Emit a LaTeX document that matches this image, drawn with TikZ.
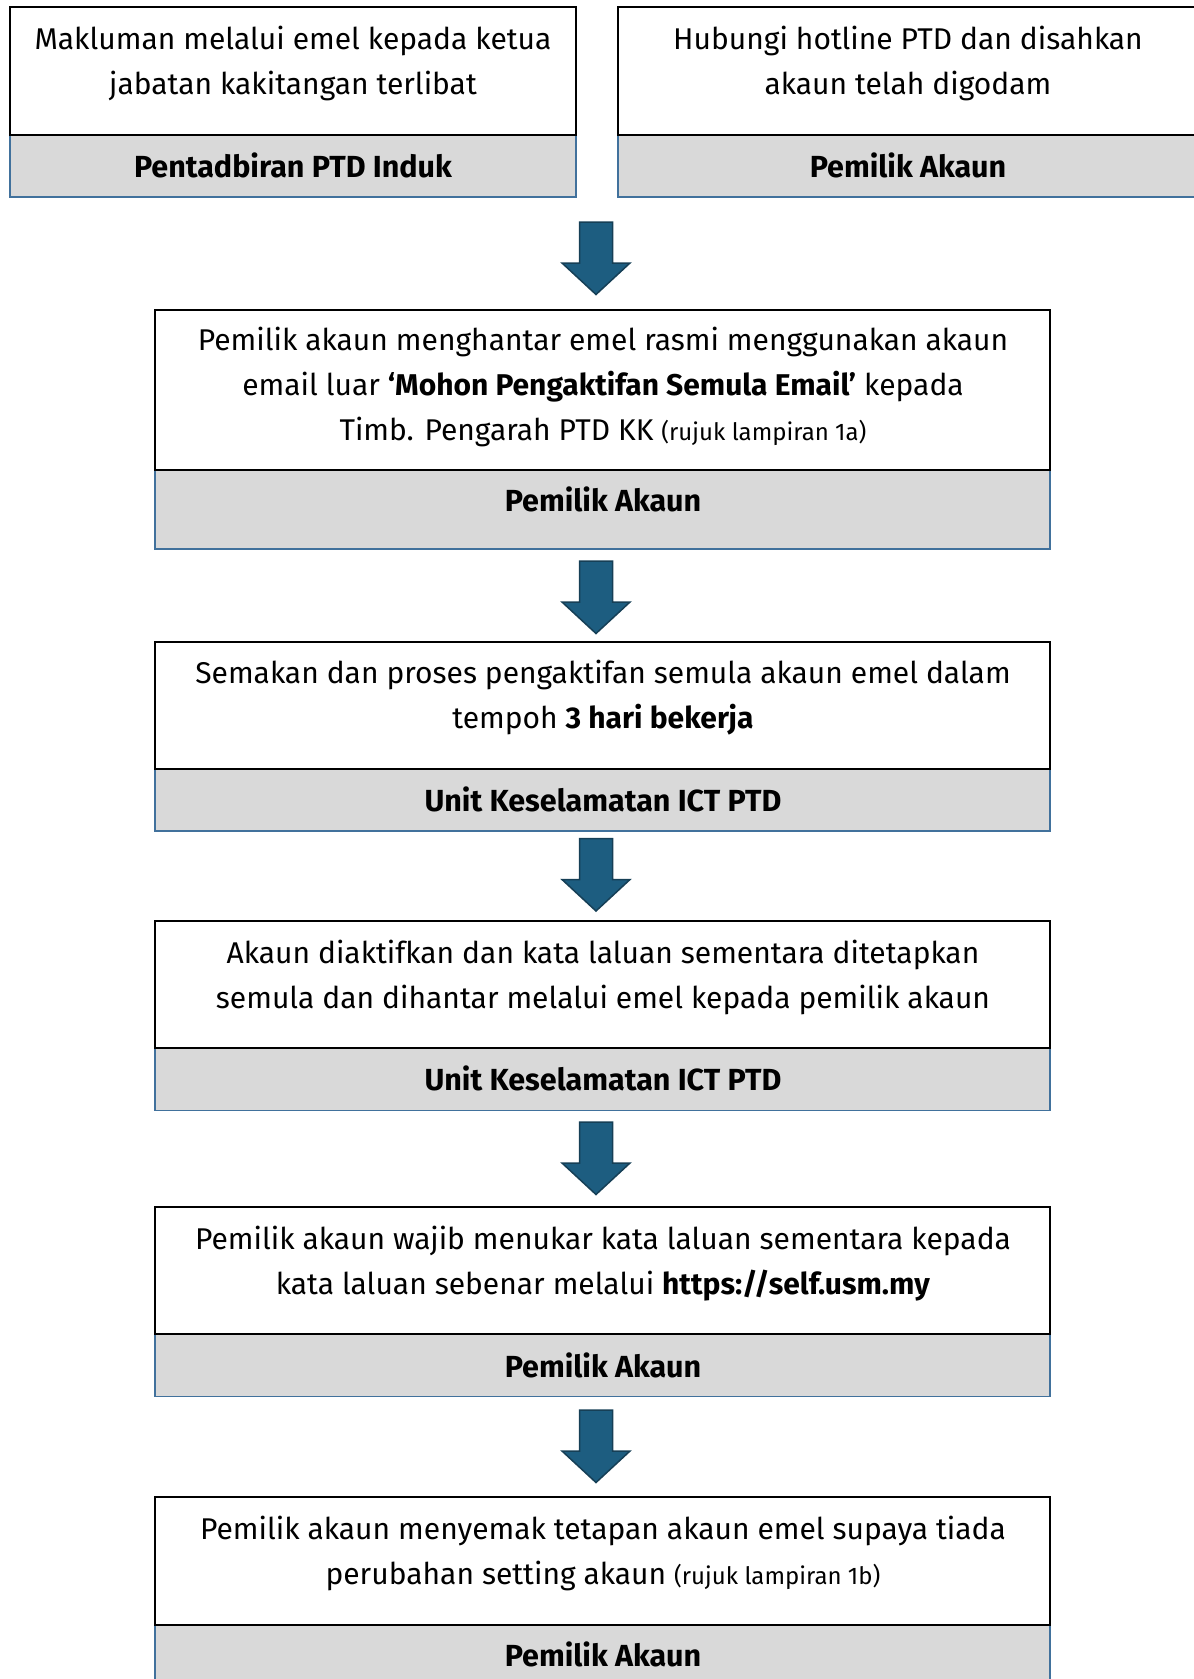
\documentclass[tikz,border=0pt]{standalone}
\usepackage{fontspec}
\setmainfont{Fira Sans}
\definecolor{labfill}{HTML}{D9D9D9}
\definecolor{labedge}{HTML}{41719C}
\definecolor{arrfill}{HTML}{1D5D80}
\definecolor{arredge}{HTML}{163F56}
\begin{document}
\begin{tikzpicture}[x=1pt,y=-1pt,
  wbox/.style={draw=black,line width=2pt,fill=white},
  gbox/.style={draw=labedge,line width=1.5pt,fill=labfill},
  body/.style={align=center,font=\fontsize{30}{45}\selectfont,inner sep=0pt},
  lab/.style={font=\fontsize{30.5}{32}\selectfont\bfseries,inner sep=0pt},
  blockarrow/.style={fill=arrfill,draw=arredge,line width=1.5pt,line join=miter}]
\useasboundingbox (0,0) rectangle (1194,1679);
% top left
\draw[gbox] (10,135) rectangle (576,197);
\draw[wbox] (10,7) rectangle (576,135);
\node[body] (t1) at (293,63) {Makluman melalui emel kepada ketua\\jabatan kakitangan terlibat};
\node[lab] (l1) at (293,165) {Pentadbiran PTD Induk};
% top right
\draw[gbox] (618,135) rectangle (1200,197);
\draw[wbox] (618,7) rectangle (1200,135);
\node[body] (t2) at (908,63) {Hubungi hotline PTD dan disahkan\\akaun telah digodam};
\node[lab] (l2) at (908,165) {Pemilik Akaun};
% box 2
\draw[gbox] (155,470) rectangle (1050,549);
\draw[wbox] (155,309.5) rectangle (1050,470);
\node[body] (t3) at (603,387) {Pemilik akaun menghantar emel rasmi menggunakan akaun\\email luar \textbf{‘Mohon Pengaktifan Semula Email’} kepada\\Timb. Pengarah PTD KK {\fontsize{24}{30}\selectfont(rujuk lampiran 1a)}};
\node[lab] (l3) at (603,499) {Pemilik Akaun};
% box 3
\draw[gbox] (155,769) rectangle (1050,831);
\draw[wbox] (155,641.5) rectangle (1050,769);
\node[body] (t4) at (603,697.5) {Semakan dan proses pengaktifan semula akaun emel dalam\\tempoh \textbf{3 hari bekerja}};
\node[lab] (l4) at (603,799) {Unit Keselamatan ICT PTD};
% box 4
\draw[gbox] (155,1048) rectangle (1050,1110.5);
\draw[wbox] (155,921) rectangle (1050,1048);
\node[body] (t5) at (603,977) {Akaun diaktifkan dan kata laluan sementara ditetapkan\\semula dan dihantar melalui emel kepada pemilik akaun};
\node[lab] (l5) at (603,1078.5) {Unit Keselamatan ICT PTD};
% box 5
\draw[gbox] (155,1334) rectangle (1050,1396.5);
\draw[wbox] (155,1207) rectangle (1050,1334);
\node[body] (t6) at (603,1263.5) {Pemilik akaun wajib menukar kata laluan sementara kepada\\kata laluan sebenar melalui \textbf{https://self.usm.my}};
\node[lab] (l6) at (603,1365.5) {Pemilik Akaun};
% box 6
\draw[gbox] (155,1624.5) rectangle (1050,1700);
\draw[wbox] (155,1497) rectangle (1050,1624.5);
\node[body] (t7) at (603,1553.5) {Pemilik akaun menyemak tetapan akaun emel supaya tiada\\perubahan setting akaun {\fontsize{24}{30}\selectfont(rujuk lampiran 1b)}};
\node[lab] (l7) at (603,1654.5) {Pemilik Akaun};
% arrows
\foreach \n/\yt in {a1/222,a2/561,a3/838.5,a4/1122,a5/1410}{
  \coordinate (\n) at (596,\yt);
  \draw[blockarrow] (\n) ++(-16.5,0) -- ++(33,0) -- ++(0,41) -- ++(17.5,0)
     -- ++(-34,31.5) -- ++(-34,-31.5) -- ++(17.5,0) -- cycle;
}
\end{tikzpicture}
\end{document}
